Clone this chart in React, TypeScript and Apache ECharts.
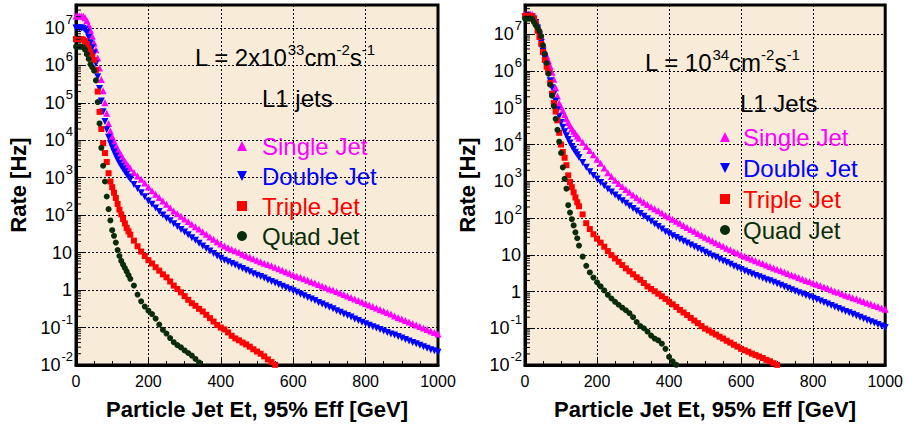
import React, { useEffect, useRef } from "react";
import * as echarts from "echarts";

const FONT = "'Liberation Sans', Arial, Helvetica, sans-serif";

// Particle jet Et thresholds (GeV)
const energies = [
  0, 5, 10, 15, 20, 25, 30, 35, 40, 45, 50, 55, 60, 65, 70, 75, 80, 85, 90, 95, 100, 105, 110, 115, 120, 125, 130, 135, 140, 145, 150,
  160, 170, 180, 190, 200, 210, 220, 230, 240, 250,
  260, 270, 280, 290, 300, 310, 320, 330, 340, 350,
  360, 370, 380, 390, 400, 410, 420, 430, 440, 450,
  460, 470, 480, 490, 500, 510, 520, 530, 540, 550,
  560, 570, 580, 590, 600, 610, 620, 630, 640, 650,
  660, 670, 680, 690, 700, 710, 720, 730, 740, 750,
  760, 770, 780, 790, 800, 810, 820, 830, 840, 850,
  860, 870, 880, 890, 900, 910, 920, 930, 940, 950,
  960, 970, 980, 990, 1000,
];

// Left panel: L = 2x10^33 cm^-2 s^-1 (rates in Hz)
const leftSingle = [
  2.09e7, 2.09e7, 2.09e7, 2.09e7, 2.04e7, 1.86e7, 1.58e7, 1.2e7, 8.71e6, 6.03e6, 3.98e6, 2.63e6, 1.58e6, 8.51e5, 4.17e5, 2.09e5, 1e5, 5.25e4, 2.82e4, 1.78e4, 1.26e4, 9.55e3, 7.41e3, 5.89e3, 4.79e3, 3.98e3, 3.31e3, 2.75e3, 2.34e3, 2.04e3, 1.78e3,
  1.38e3, 1.12e3, 912, 724, 562, 447, 363, 295, 240, 195,
  158, 129, 110, 93.3, 79.4, 67.6, 57.5, 49, 42.7, 36.3,
  30.9, 26.3, 22.9, 19.5, 17, 15.1, 13.5, 12.3, 11.2, 10.2,
  9.12, 8.32, 7.59, 6.92, 6.31, 5.75, 5.25, 4.79, 4.47, 4.07,
  3.72, 3.39, 3.09, 2.82, 2.57, 2.34, 2.19, 2.0, 1.82, 1.66,
  1.55, 1.41, 1.29, 1.17, 1.07, 1.0, 0.912, 0.832, 0.759, 0.692,
  0.631, 0.575, 0.525, 0.479, 0.437, 0.398, 0.363, 0.331, 0.302, 0.275,
  0.251, 0.229, 0.204, 0.186, 0.17, 0.155, 0.141, 0.129, 0.117, 0.107,
  0.0977, 0.0891, 0.0813, 0.0741, 0.0676,
];
const leftDouble = [
  1e7, 1e7, 1e7, 1e7, 9.77e6, 8.91e6, 7.59e6, 5.62e6, 3.98e6, 2.95e6, 2.14e6, 1.12e6, 5.01e5, 2.4e5, 1.12e5, 5.75e4, 3.16e4, 1.91e4, 1.2e4, 8.32e3, 6.31e3, 4.9e3, 3.8e3, 3.02e3, 2.45e3, 2.04e3, 1.7e3, 1.45e3, 1.23e3, 1.05e3, 912,
  661, 513, 398, 309, 240, 195, 155, 126, 102, 83.2,
  70.8, 58.9, 50.1, 41.7, 35.5, 30.2, 25.1, 21.4, 17.8, 15.1,
  12.9, 11, 9.55, 8.13, 7.08, 6.31, 5.75, 5.13, 4.68, 4.17,
  3.8, 3.39, 3.09, 2.75, 2.51, 2.29, 2.09, 1.86, 1.7, 1.55,
  1.41, 1.26, 1.15, 1.05, 0.955, 0.871, 0.776, 0.708, 0.631, 0.575,
  0.525, 0.468, 0.427, 0.38, 0.347, 0.316, 0.282, 0.257, 0.229, 0.209,
  0.191, 0.17, 0.155, 0.138, 0.126, 0.115, 0.105, 0.0977, 0.0891, 0.0813,
  0.0741, 0.0676, 0.0631, 0.0575, 0.0525, 0.0479, 0.0437, 0.0398, 0.0372, 0.0339,
  0.0309, 0.0282, 0.0257, 0.024, 0.0219,
];
const leftTriple = [
  5.01e6, 5.01e6, 5.01e6, 5.01e6, 4.9e6, 4.47e6, 3.72e6, 2.82e6, 2.24e6, 1.74e6, 1.38e6, 7.59e5, 2e5, 5.75e4, 2e4, 8.32e3, 4.57e3, 2.63e3, 1.32e3, 794, 562, 398, 288, 200, 141, 105, 79.4, 60.3, 45.7, 37.2, 30.2,
  20.9, 14.8, 10.7, 8.13, 6.31, 5.13, 4.07, 3.31, 2.63, 2.19,
  1.7, 1.32, 1.07, 0.871, 0.692, 0.55, 0.447, 0.38, 0.316, 0.269,
  0.219, 0.178, 0.145, 0.117, 0.1, 0.0891, 0.0741, 0.0603, 0.0513, 0.0457,
  0.0398, 0.0355, 0.0309, 0.0263, 0.0229, 0.02, 0.017, 0.0141, 0.012, 0.0101,
];
const leftQuad = [
  3.16e6, 3.16e6, 3.16e6, 3.16e6, 3.02e6, 2.63e6, 2e6, 1.48e6, 1.07e6, 8.91e5, 7.24e5, 3.98e5, 1.05e5, 2.82e4, 6.31e3, 2.09e3, 794, 316, 145, 72.4, 39.8, 28.2, 18.6, 11.7, 8.13, 6.03, 4.79, 3.89, 3.16, 2.51, 2.0,
  1.32, 0.759, 0.501, 0.363, 0.282, 0.229, 0.174, 0.12, 0.0871, 0.0692,
  0.0525, 0.0407, 0.0339, 0.0295, 0.0245, 0.0209, 0.0178, 0.0145, 0.0117,
];

// Right panel: L = 10^34 cm^-2 s^-1 (rates in Hz)
const rightSingle = [
  3.55e7, 3.55e7, 3.55e7, 3.55e7, 3.47e7, 3.16e7, 2.51e7, 1.86e7, 1.32e7, 8.91e6, 5.5e6, 3.55e6, 2.63e6, 1.91e6, 1.35e6, 9.33e5, 6.03e5, 3.55e5, 2.09e5, 1.35e5, 1.07e5, 8.51e4, 6.61e4, 5.01e4, 3.98e4, 3.31e4, 2.75e4, 2.29e4, 2e4, 1.7e4, 1.48e4,
  1.15e4, 8.91e3, 6.92e3, 5.25e3, 3.98e3, 3.09e3, 2.29e3, 1.7e3, 1.35e3, 1.07e3,
  871, 724, 603, 501, 427, 363, 309, 269, 234, 204,
  178, 158, 138, 120, 107, 93.3, 81.3, 72.4, 63.1, 55,
  49, 43.7, 38, 33.9, 30.2, 26.9, 24, 21.4, 19.1, 17,
  15.1, 13.8, 12.3, 11.2, 10, 9.12, 8.32, 7.59, 6.92, 6.31,
  5.75, 5.25, 4.79, 4.37, 4.07, 3.72, 3.39, 3.09, 2.82, 2.63,
  2.4, 2.19, 2.0, 1.86, 1.7, 1.58, 1.45, 1.32, 1.23, 1.12,
  1.02, 0.955, 0.871, 0.794, 0.741, 0.676, 0.631, 0.575, 0.537, 0.49,
  0.457, 0.417, 0.389, 0.355, 0.331,
];
const rightDouble = [
  3.02e7, 3.02e7, 3.02e7, 3.02e7, 2.95e7, 2.63e7, 2.09e7, 1.48e7, 9.55e6, 6.03e6, 3.55e6, 2.24e6, 1.35e6, 8.51e5, 5.5e5, 3.55e5, 2.34e5, 1.51e5, 8.91e4, 5.89e4, 3.98e4, 2.95e4, 2.24e4, 1.74e4, 1.38e4, 1.1e4, 8.91e3, 7.41e3, 6.17e3, 5.25e3, 4.47e3,
  3.24e3, 2.4e3, 1.82e3, 1.45e3, 1.15e3, 933, 759, 617, 513, 427,
  355, 295, 251, 214, 182, 155, 132, 112, 95.5, 81.3,
  69.2, 58.9, 50.1, 42.7, 37.2, 33.1, 29.5, 26.3, 23.4, 20.9,
  18.6, 16.6, 14.8, 13.2, 11.7, 10.5, 9.33, 8.51, 7.59, 6.76,
  6.17, 5.5, 4.9, 4.47, 3.98, 3.63, 3.31, 3.02, 2.75, 2.51,
  2.29, 2.09, 1.95, 1.78, 1.62, 1.48, 1.35, 1.23, 1.12, 1.02,
  0.933, 0.851, 0.776, 0.724, 0.661, 0.603, 0.55, 0.501, 0.457, 0.417,
  0.38, 0.347, 0.316, 0.288, 0.263, 0.24, 0.219, 0.2, 0.182, 0.166,
  0.151, 0.138, 0.126, 0.115, 0.105,
];
const rightTriple = [
  3.16e7, 3.16e7, 3.16e7, 3.16e7, 3.09e7, 2.63e7, 2e7, 1.26e7, 8.51e6, 5.5e6, 3.31e6, 2e6, 1.32e6, 9.55e5, 4.79e5, 2.4e5, 1.35e5, 7.94e4, 4.57e4, 2.09e4, 1e4, 6.31e3, 4.37e3, 2.75e3, 1.45e3, 955, 692, 501, 363, 269, 209,
  126, 72.4, 50.1, 36.3, 27.5, 21.4, 16.6, 12.6, 9.77, 7.94,
  6.46, 5.25, 4.27, 3.55, 2.95, 2.45, 2.09, 1.7, 1.38, 1.17,
  1.02, 0.871, 0.741, 0.631, 0.525, 0.447, 0.38, 0.316, 0.269, 0.229,
  0.191, 0.162, 0.138, 0.115, 0.0977, 0.0871, 0.0759, 0.0676, 0.0589, 0.0525,
  0.0457, 0.0407, 0.0355, 0.0316, 0.0275, 0.0251, 0.0229, 0.0204, 0.0186, 0.017,
  0.0155, 0.0138, 0.0126, 0.0112, 0.0101,
];
const rightQuad = [
  2.69e7, 2.69e7, 2.69e7, 2.69e7, 2.63e7, 2.14e7, 1.78e7, 1.51e7, 1.23e7, 8.91e6, 5.01e6, 2.95e6, 1.66e6, 8.51e5, 4.27e5, 2.14e5, 1.12e5, 5.01e4, 2.51e4, 1.2e4, 5.89e3, 2.4e3, 1.17e3, 631, 224, 141, 93.3, 63.1, 40.7, 28.2, 17.8,
  8.91, 5.01, 3.31, 2.4, 1.78, 1.38, 1.07, 0.813, 0.646, 0.525,
  0.437, 0.363, 0.309, 0.257, 0.2, 0.148, 0.115, 0.1, 0.0813, 0.0631,
  0.0525, 0.0468, 0.038, 0.0275, 0.0166, 0.0126, 0.0101,
];

const jetNames = ["Single Jet", "Double Jet", "Triple Jet", "Quad Jet"];
const jetColors = ["#ff00ff", "#0000ff", "#ff0000", "#0a2c0a"];
const jetSymbols = ["triangle", "path://M0,0L10,0L5,10Z", "rect", "circle"];
const jetSizes = [7, 7, 6, 6];

const xTickInterval = 200;
const xMax = 1000;
const rateMin = 0.01;
const leftRateMax = 4.1e7;
const rightRateMax = 6.3e7;

const panelTitles = [
  "{a|L = 2x10}{s|33}{a|cm}{s|-2}{a|s}{s|-1}",
  "{a|L = 10}{s|34}{a|cm}{s|-2}{a|s}{s|-1}",
];
const panelSubtitles = ["L1 jets", "L1 Jets"];
const xAxisTitle = "Particle Jet Et, 95% Eff [GeV]";
const yAxisTitle = "Rate [Hz]";

function minorTickValues(max: number) {
  const out: number[] = [];
  for (let k = -2; k <= 7; k++) {
    for (let m = 2; m <= 9; m++) {
      const v = m * Math.pow(10, k);
      if (v < max) out.push(v);
    }
  }
  return out;
}

function rateLabel(v: number) {
  const e = Math.log10(v);
  const r = Math.round(e);
  if (Math.abs(e - r) > 1e-6) return "";
  if (r === 0) return "{b|1}";
  if (r === 1) return "{b|10}";
  return `{b|10}{s|${r}}`;
}

export default function App() {
  const ref = useRef<HTMLDivElement>(null);

  useEffect(() => {
    document.body.style.margin = "0";
    if (!ref.current) return;
    const chart = echarts.init(ref.current, null, { renderer: "svg" });

    const grids = [
      { left: 76, top: 5, width: 362, height: 361 },
      { left: 525, top: 5, width: 363, height: 361 },
    ].map((g) => ({
      ...g,
      show: true,
      backgroundColor: "#f8ecd9",
      borderColor: "#000",
      borderWidth: 3,
      containLabel: false,
    }));

    const dotted = { color: "#000", width: 1, type: [2, 2] as any };

    const xAxes = [0, 1].map((i) => ({
      type: "value",
      gridIndex: i,
      min: 0,
      max: xMax,
      interval: xTickInterval,
      name: xAxisTitle,
      nameLocation: "middle",
      nameGap: 33,
      nameTextStyle: { fontSize: 22, fontWeight: "bold", fontFamily: FONT, color: "#000" },
      axisLine: { show: true, lineStyle: { color: "#000", width: 3 } },
      axisTick: { show: true, inside: true, length: 6, lineStyle: { color: "#000", width: 1 } },
      minorTick: { show: true, splitNumber: 4, length: 4, lineStyle: { color: "#000", width: 1 } },
      axisLabel: {
        fontSize: 16,
        fontFamily: FONT,
        color: "#000",
        margin: 8,
        formatter: (v: number) => String(v),
      },
      splitLine: { show: true, lineStyle: dotted },
      minorSplitLine: { show: false },
    }));

    const yMaxes = [leftRateMax, rightRateMax];
    const yAxes = [0, 1].map((i) => ({
      type: "log",
      logBase: 10,
      gridIndex: i,
      min: rateMin,
      max: yMaxes[i],
      splitNumber: 10,
      name: yAxisTitle,
      nameLocation: "middle",
      nameGap: 47,
      nameTextStyle: { fontSize: 22, fontWeight: "bold", fontFamily: FONT, color: "#000" },
      axisLine: { show: true, lineStyle: { color: "#000", width: 3 } },
      axisTick: { show: true, inside: true, length: 8, lineStyle: { color: "#000", width: 1 } },
      minorTick: { show: false },
      axisLabel: {
        margin: 3,
        formatter: rateLabel,
        rich: {
          b: { fontSize: 18, lineHeight: 30, fontFamily: FONT, color: "#000", padding: [0, 1, 0, 0] },
          s: { fontSize: 13, lineHeight: 13, fontFamily: FONT, color: "#000", verticalAlign: "top" },
        },
      },
      splitLine: { show: true, lineStyle: dotted },
    }));

    const panelData = [
      [leftSingle, leftDouble, leftTriple, leftQuad],
      [rightSingle, rightDouble, rightTriple, rightQuad],
    ];

    const series: any[] = [];
    panelData.forEach((sets, pi) => {
      sets.forEach((vals, si) => {
        series.push({
          type: "scatter",
          name: jetNames[si],
          xAxisIndex: pi,
          yAxisIndex: pi,
          symbol: jetSymbols[si],
          symbolSize: jetSizes[si],
          itemStyle: { color: jetColors[si], opacity: 1 },
          data: vals.map((v, i) => [energies[i], v]),
          silent: true,
          z: 3 + si,
        });
      });
      series.push({
        type: "custom",
        xAxisIndex: pi,
        yAxisIndex: pi,
        silent: true,
        z: 10,
        data: minorTickValues(yMaxes[pi]).map((v) => [0, v]),
        renderItem: (_params: any, api: any) => {
          const p = api.coord([0, api.value(1)]);
          return {
            type: "line",
            shape: { x1: p[0], y1: p[1], x2: p[0] + 5, y2: p[1] },
            style: { stroke: "#000", lineWidth: 1 },
          };
        },
      });
    });

    const legendBase = {
      orient: "vertical",
      itemWidth: 10,
      itemHeight: 10,
      padding: 0,
      selectedMode: false,
      data: jetNames.map((n, i) => ({ name: n, textStyle: { color: jetColors[i] } })),
    };

    const annRich = {
      a: { fontSize: 24, lineHeight: 30, fontFamily: FONT, fill: "#000" },
      s: { fontSize: 15, lineHeight: 16, fontFamily: FONT, fill: "#000", verticalAlign: "top" },
    };

    chart.setOption({
      animation: false,
      backgroundColor: "#ffffff",
      textStyle: { fontFamily: FONT },
      grid: grids,
      xAxis: xAxes,
      yAxis: yAxes,
      legend: [
        {
          ...legendBase,
          left: 237,
          top: 134,
          itemGap: 6,
          textStyle: { fontSize: 24, fontFamily: FONT, padding: [0, 0, 0, 10] },
        },
        {
          ...legendBase,
          left: 720,
          top: 125,
          itemGap: 7,
          textStyle: { fontSize: 24, fontFamily: FONT, padding: [0, 0, 0, 8] },
        },
      ],
      graphic: [
        {
          type: "text",
          x: 195,
          y: 57,
          style: { text: panelTitles[0], rich: annRich, verticalAlign: "middle", align: "left" },
        },
        {
          type: "text",
          x: 262,
          y: 98,
          style: { text: panelSubtitles[0], fontSize: 24, fontFamily: FONT, fill: "#000", verticalAlign: "middle", align: "left" },
        },
        {
          type: "text",
          x: 645,
          y: 62,
          style: { text: panelTitles[1], rich: annRich, verticalAlign: "middle", align: "left" },
        },
        {
          type: "text",
          x: 740,
          y: 103,
          style: { text: panelSubtitles[1], fontSize: 24, fontFamily: FONT, fill: "#000", verticalAlign: "middle", align: "left" },
        },
      ],
      series,
    });

    return () => chart.dispose();
  }, []);

  return <div ref={ref} style={{ width: 906, height: 425 }} />;
}
